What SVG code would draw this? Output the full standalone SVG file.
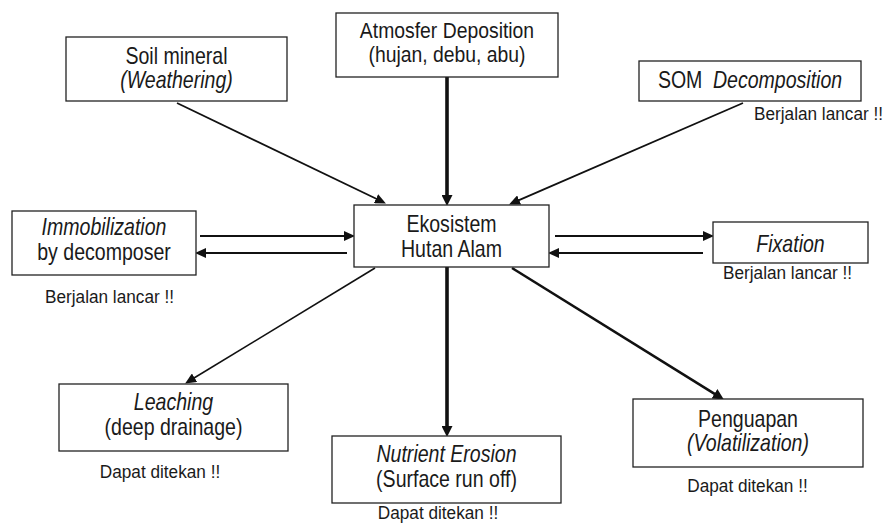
<svg xmlns="http://www.w3.org/2000/svg" width="885" height="529" viewBox="0 0 885 529">
<defs>
<style>
.box{fill:#fff;stroke:#222;stroke-width:1.3}
.t{font-family:"Liberation Sans",Arial,sans-serif;font-size:23px;fill:#1a1a1a;text-anchor:middle}
.s{font-size:22px}
.a{font-family:"Liberation Sans",Arial,sans-serif;font-size:18.5px;fill:#1a1a1a;text-anchor:middle}
.i{font-style:italic}
.ln{stroke:#111;fill:none}
</style>
<marker id="ah" markerUnits="userSpaceOnUse" viewBox="0 0 11 10" markerWidth="11" markerHeight="10" refX="2" refY="5" orient="auto">
<path d="M0,0 L11,5 L0,10 z" fill="#111"/>
</marker>
<marker id="ahb" markerUnits="userSpaceOnUse" viewBox="0 0 11 11" markerWidth="11" markerHeight="11" refX="2" refY="5.5" orient="auto">
<path d="M0,0 L11,5.5 L0,11 z" fill="#111"/>
</marker>
</defs>
<rect width="885" height="529" fill="#fff"/>
<g id="connectors">
<line class="ln" x1="177" y1="103" x2="377.8" y2="199.5" stroke-width="1.8" marker-end="url(#ah)"/>
<line class="ln" x1="447" y1="77" x2="447" y2="197" stroke-width="3.6" marker-end="url(#ahb)"/>
<line class="ln" x1="743" y1="103" x2="517.3" y2="200.8" stroke-width="1.8" marker-end="url(#ah)"/>
<line class="ln" x1="200" y1="236" x2="346" y2="236" stroke-width="2" marker-end="url(#ah)"/>
<line class="ln" x1="347" y1="253" x2="204" y2="253" stroke-width="2" marker-end="url(#ah)"/>
<line class="ln" x1="555" y1="236" x2="705" y2="236" stroke-width="2" marker-end="url(#ah)"/>
<line class="ln" x1="703" y1="253" x2="557" y2="253" stroke-width="2" marker-end="url(#ah)"/>
<line class="ln" x1="375" y1="268" x2="192.8" y2="378.8" stroke-width="1.6" marker-end="url(#ah)"/>
<line class="ln" x1="447" y1="267" x2="447" y2="428" stroke-width="3.6" marker-end="url(#ahb)"/>
<line class="ln" x1="512" y1="268" x2="716.2" y2="394.8" stroke-width="2.6" marker-end="url(#ahb)"/>
</g>
<g id="soil">
<rect class="box" x="66" y="37" width="221" height="64"/>
<text class="t" transform="translate(176.5 64) scale(0.85 1)">Soil mineral</text>
<text class="t i" transform="translate(176.5 88) scale(0.85 1)">(Weathering)</text>
</g>
<g id="atmosfer">
<rect class="box" x="336" y="13" width="222" height="64"/>
<text class="t s" transform="translate(447 38) scale(0.88 1)">Atmosfer Deposition</text>
<text class="t s" transform="translate(447 62) scale(0.88 1)">(hujan, debu, abu)</text>
</g>
<g id="som">
<rect class="box" x="639" y="61" width="222" height="40"/>
<text class="t" transform="translate(750 88) scale(0.85 1)">SOM <tspan class="i" dx="6">Decomposition</tspan></text>
<text class="a" transform="translate(818.5 120) scale(0.93 1)">Berjalan lancar !!</text>
</g>
<g id="immobilization">
<rect class="box" x="12" y="211" width="184" height="64"/>
<text class="t i" transform="translate(104 235) scale(0.85 1)">Immobilization</text>
<text class="t" transform="translate(104 260) scale(0.85 1)">by decomposer</text>
<text class="a" transform="translate(109.5 303) scale(0.93 1)">Berjalan lancar !!</text>
</g>
<g id="ekosistem">
<rect class="box" x="354" y="205" width="195" height="62"/>
<text class="t" transform="translate(451.5 232) scale(0.85 1)">Ekosistem</text>
<text class="t" transform="translate(451.5 257) scale(0.85 1)">Hutan Alam</text>
</g>
<g id="fixation">
<rect class="box" x="713" y="222" width="155" height="41"/>
<text class="t i" transform="translate(790.5 252) scale(0.85 1)">Fixation</text>
<text class="a" transform="translate(787.5 279) scale(0.93 1)">Berjalan lancar !!</text>
</g>
<g id="leaching">
<rect class="box" x="59" y="384" width="229" height="67"/>
<text class="t i" transform="translate(173.5 410) scale(0.85 1)">Leaching</text>
<text class="t" transform="translate(173.5 435) scale(0.85 1)">(deep drainage)</text>
<text class="a" transform="translate(160 478) scale(0.93 1)">Dapat ditekan !!</text>
</g>
<g id="erosion">
<rect class="box" x="332" y="436" width="229" height="67"/>
<text class="t i" transform="translate(446.5 462) scale(0.85 1)">Nutrient Erosion</text>
<text class="t" transform="translate(446.5 487) scale(0.85 1)">(Surface run off)</text>
<text class="a" transform="translate(438 519) scale(0.93 1)">Dapat ditekan !!</text>
</g>
<g id="penguapan">
<rect class="box" x="633" y="399" width="230" height="68"/>
<text class="t" transform="translate(748 427) scale(0.85 1)">Penguapan</text>
<text class="t i" transform="translate(748 451) scale(0.85 1)">(Volatilization)</text>
<text class="a" transform="translate(747.5 492) scale(0.93 1)">Dapat ditekan !!</text>
</g>
</svg>
